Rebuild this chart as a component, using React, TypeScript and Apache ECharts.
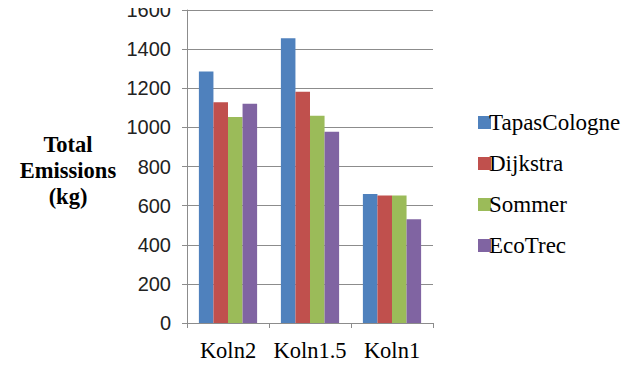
import React, { useEffect, useRef } from "react";
import * as echarts from "echarts";

const categories = ["Koln2", "Koln1.5", "Koln1"];
const seriesNames = ["TapasCologne", "Dijkstra", "Sommer", "EcoTrec"];
const tapasCologne = [1285, 1455, 660];
const dijkstra = [1128, 1182, 652];
const sommer = [1053, 1060, 652];
const ecoTrec = [1121, 978, 530];
const colors = ["#4F81BD", "#C0504D", "#9BBB59", "#8064A2"];

const SERIF = "serif";
const SANS = "Liberation Sans";
const AXIS_GREY = "#8c8c8c";

export default function App() {
  const ref = useRef<HTMLDivElement>(null);
  useEffect(() => {
    const chart = echarts.init(ref.current!, null, { renderer: "svg" });
    const values = [tapasCologne, dijkstra, sommer, ecoTrec];
    chart.setOption({
      animation: false,
      backgroundColor: "#ffffff",
      grid: { left: 187, right: 208, top: 10, bottom: 43 },
      title: {
        text: "Total\nEmissions\n(kg)",
        left: 63,
        top: 126,
        textAlign: "center",
        textStyle: {
          fontFamily: SERIF,
          fontWeight: "bold",
          fontSize: 22.5,
          lineHeight: 26,
          color: "#000",
        },
      },
      legend: {
        orient: "vertical",
        left: 473,
        top: 106,
        itemWidth: 13,
        itemHeight: 13,
        itemGap: 18,
        icon: "rect",
        textStyle: {
          fontFamily: SERIF,
          fontSize: 23,
          lineHeight: 22,
          color: "#000",
          padding: [0, 0, 0, -7],
        },
        data: seriesNames,
      },
      xAxis: {
        type: "category",
        data: categories,
        axisLine: { lineStyle: { color: AXIS_GREY } },
        axisTick: { show: true, length: 5, lineStyle: { color: AXIS_GREY } },
        axisLabel: {
          fontFamily: SERIF,
          fontSize: 22.5,
          color: "#000",
          margin: 16,
          interval: 0,
          hideOverlap: false,
        },
      },
      yAxis: {
        type: "value",
        min: 0,
        max: 1600,
        interval: 200,
        axisLine: { show: true, lineStyle: { color: AXIS_GREY } },
        axisTick: { show: true, length: 5, lineStyle: { color: AXIS_GREY } },
        splitLine: { lineStyle: { color: AXIS_GREY } },
        axisLabel: {
          fontFamily: SANS,
          fontSize: 20,
          color: "#222",
          margin: 16,
          formatter: (v: number) => String(v),
        },
      },
      series: seriesNames.map((name, i) => ({
        name,
        type: "bar",
        data: values[i],
        barGap: "0%",
        barCategoryGap: "29%",
        itemStyle: { color: colors[i] },
      })),
    });
    return () => chart.dispose();
  }, []);
  return <div ref={ref} style={{ width: 641, height: 366, margin: -8 }} />;
}
